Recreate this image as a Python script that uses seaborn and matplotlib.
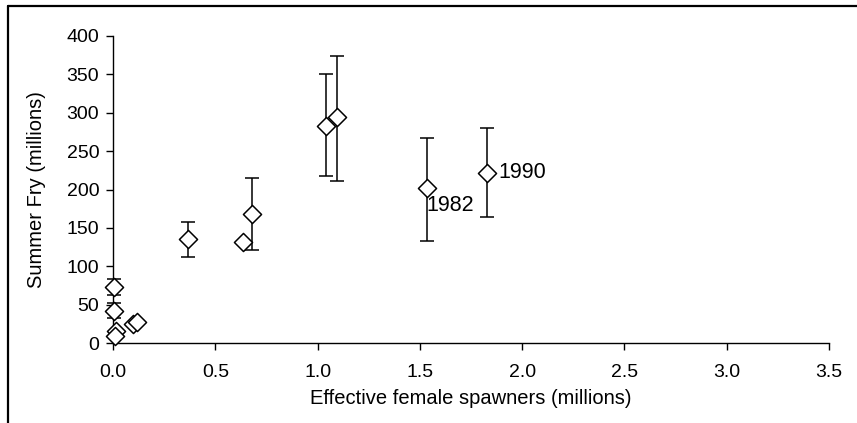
import numpy as np
import pandas as pd
import matplotlib
matplotlib.use("Agg")
import matplotlib.pyplot as plt
import seaborn as sns
from matplotlib.lines import Line2D

# spawners vs summer fry
spawners = [0.005, 0.005, 0.013, 0.008, 0.10, 0.115, 0.365, 0.634, 0.681, 1.04, 1.093, 1.533, 1.83]
fry = [73, 42, 16, 9.5, 25, 28, 135, 131, 168, 283, 294, 201.5, 222]
fry_hi = [84, 52, np.nan, np.nan, np.nan, np.nan, 158, np.nan, 215, 350, 374, 267.5, 280]
fry_lo = [63, 32, np.nan, np.nan, np.nan, np.nan, 112, np.nan, 121, 218, 211, 133, 164]
years = ["", "", "", "", "", "", "", "", "", "", "", "1982", "1990"]

df = pd.DataFrame({"spawners": spawners, "fry": fry, "hi": fry_hi, "lo": fry_lo, "year": years})

sns.set_style("white")
plt.rcParams["font.family"] = ["Liberation Sans", "DejaVu Sans"]
# plain black text like the original
for k in ["text.color", "axes.labelcolor", "xtick.color", "ytick.color"]:
    plt.rcParams[k] = "black"

fig = plt.figure(figsize=(8.57, 4.23), dpi=100)
ax = fig.add_axes([0.1319, 0.1891, 0.8354, 0.7258])

# error bars first, only where there is one
eb = df.dropna(subset=["hi", "lo"])
ax.errorbar(eb["spawners"], eb["fry"],
            yerr=[eb["fry"] - eb["lo"], eb["hi"] - eb["fry"]],
            fmt="none", ecolor="black", elinewidth=1.1, capsize=4.8, capthick=1.1,
            zorder=2, clip_on=False)

sns.scatterplot(data=df, x="spawners", y="fry", marker="D", s=85,
                facecolor="white", edgecolor="black", linewidth=1.1,
                ax=ax, zorder=3, clip_on=False)

for _, r in df[df["year"] != ""].iterrows():
    if r["year"] == "1982":
        ax.annotate(r["year"], (r["spawners"], r["fry"]), xytext=(0, -5),
                    textcoords="offset points", ha="left", va="top", fontsize=15.5)
    else:
        ax.annotate(r["year"], (r["spawners"], r["fry"]), xytext=(8, 0),
                    textcoords="offset points", ha="left", va="center", fontsize=15.5)

ax.set_xlim(0, 3.5)
ax.set_ylim(0, 400)
ax.set_xticks(np.arange(0, 3.51, 0.5))
ax.set_xticklabels([f"{v:.1f}" for v in np.arange(0, 3.51, 0.5)])
ax.set_yticks(np.arange(0, 401, 50))
ax.tick_params(axis="both", direction="out", length=5, width=1, color="black",
               bottom=True, left=True)
ax.tick_params(axis="x", pad=10, labelsize=14)
ax.tick_params(axis="y", pad=5, labelsize=14)
for side in ["top", "right"]:
    ax.spines[side].set_visible(False)
for side in ["left", "bottom"]:
    ax.spines[side].set_color("black")
    ax.spines[side].set_linewidth(1)

ax.set_xlabel("Effective female spawners (millions)", fontsize=14.5, labelpad=6)
ax.set_ylabel("Summer Fry (millions)", fontsize=14.5, labelpad=15)

# partial frame around the figure
fig.add_artist(Line2D([8 / 857, 1], [1 - 6 / 423, 1 - 6 / 423], color="black", lw=1.6, transform=fig.transFigure))
fig.add_artist(Line2D([8 / 857, 8 / 857], [0, 1 - 6 / 423], color="black", lw=1.6, transform=fig.transFigure))

fig.savefig("out.png", dpi=100)
